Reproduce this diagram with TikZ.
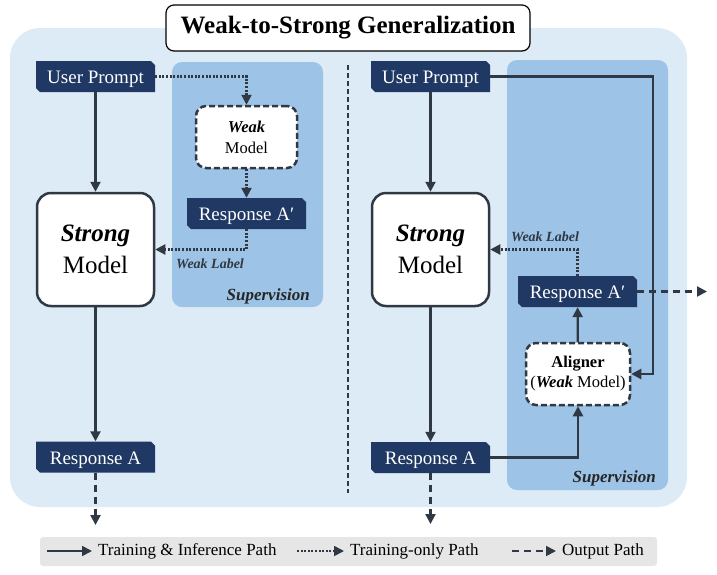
\documentclass[tikz,border=0pt]{standalone}
\usepackage{fontspec}
\setmainfont{Liberation Serif}
\usetikzlibrary{arrows.meta}
\definecolor{navy}{HTML}{203864}
\definecolor{bgblue}{HTML}{DDEBF7}
\definecolor{supblue}{HTML}{9DC3E6}
\definecolor{linec}{HTML}{2F3843}
\definecolor{legbg}{HTML}{E6E6E6}
\tikzset{
  navybox/.style={rectangle, minimum width=119pt, minimum height=31pt, inner sep=0pt,
    text height=14.5pt, text depth=0.5pt,
    text=white, font=\fontsize{19}{21}\selectfont,
    path picture={\fill[navy] (path picture bounding box.north west)
      -- ([xshift=-4pt]path picture bounding box.north east)
      -- ([yshift=-4pt]path picture bounding box.north east)
      -- (path picture bounding box.south east)
      -- ([xshift=4pt]path picture bounding box.south west)
      -- ([yshift=4pt]path picture bounding box.south west) -- cycle;}},
  strongbox/.style={rectangle, rounded corners=14pt, draw=linec, line width=2.5pt, fill=white,
    minimum width=117pt, minimum height=113pt, align=center, inner sep=0pt,
    font=\fontsize{25}{32}\selectfont},
  weakbox/.style={rectangle, rounded corners=10pt, draw=linec, line width=2.5pt, fill=white,
    dash pattern=on 6pt off 3pt, align=center, inner sep=0pt,
    font=\fontsize{16.5}{21}\selectfont},
  arr/.style={-{Triangle[length=10pt,width=10pt]}, line width=2.2pt, draw=linec},
  dotarr/.style={arr, dash pattern=on 2pt off 1.6pt},
  dasharr/.style={arr, dash pattern=on 7pt off 5pt},
  wlabel/.style={text=linec, font=\fontsize{14}{16}\selectfont\bfseries\itshape, inner sep=0pt},
  suplabel/.style={text=black!85, font=\fontsize{17}{19}\selectfont\bfseries\itshape, inner sep=0pt},
  legtext/.style={font=\fontsize{17}{19}\selectfont, inner sep=0pt, anchor=west}
}
\begin{document}
\begin{tikzpicture}[x=1pt,y=-1pt]
\useasboundingbox (0,0) rectangle (717,574);
% backgrounds
\fill[bgblue, rounded corners=30pt] (10,28) rectangle (687,507);
\fill[supblue, rounded corners=10pt] (172,62) rectangle (323,307);
\fill[supblue, rounded corners=10pt] (507,60) rectangle (668,490);
\draw[linec, line width=1.6pt, dash pattern=on 5pt off 3pt] (348,65) -- (348,493);
% title
\node[draw=black, line width=1.2pt, fill=white, rounded corners=8pt, minimum width=364pt,
  minimum height=46pt, font=\fontsize{25}{28}\selectfont\bfseries] (title) at (348,28)
  {Weak-to-Strong Generalization};
% left side
\node[navybox] (lup) at (95.5,76.5) {User Prompt};
\node[strongbox] (lstrong) at (95.5,249.5) {\textbf{\textit{Strong}}\\Model};
\node[weakbox, minimum width=101pt, minimum height=62pt] (lweak) at (246.5,137) {\textbf{\textit{Weak}}\\Model};
\node[navybox] (lrespp) at (246.5,213.5) {Response A′};
\node[navybox] (lresp) at (95.5,457) {Response A};
\coordinate (lout) at (95.5,525);
\node[suplabel, anchor=base east] (lsup) at (310,300) {Supervision};
\draw[arr] (lup) -- (lstrong);
\draw[arr] (lstrong) -- (lresp);
\draw[dasharr] (lresp) -- (lout);
\draw[dotarr] (lup.east) -| (lweak.north);
\draw[dotarr] (lweak) -- (lrespp);
\draw[dotarr] (lrespp.south) |- (lstrong.east);
\node[wlabel] (lwl) at (210,264) {Weak Label};
% right side
\node[navybox] (rup) at (430.5,76.5) {User Prompt};
\node[strongbox] (rstrong) at (430.5,249.5) {\textbf{\textit{Strong}}\\Model};
\node[navybox] (rresp) at (430.5,457.5) {Response A};
\node[navybox] (rrespp) at (577.5,291.5) {Response A′};
\node[weakbox, minimum width=104pt, minimum height=62pt, font=\fontsize{16.5}{20}\selectfont] (align) at (578,374)
  {\textbf{Aligner}\\(\textbf{\textit{Weak}} Model)};
\coordinate (rc) at (653,374);
\coordinate (rout) at (430.5,524);
\coordinate (rpout) at (707,291.5);
\node[suplabel, anchor=base east] (rsup) at (656,482) {Supervision};
\draw[arr] (rup) -- (rstrong);
\draw[arr] (rstrong) -- (rresp);
\draw[dasharr] (rresp) -- (rout);
\draw[arr] (rup.east) -| (rc) -- (align.east);
\draw[arr] (rresp.east) -| (align.south);
\draw[arr] (align) -- (rrespp);
\draw[dotarr] (rrespp.north) |- (rstrong.east);
\draw[dasharr] (rrespp.east) -- (rpout);
\node[wlabel] (rwl) at (545,237) {Weak Label};
% legend
\fill[legbg, rounded corners=3pt] (40,537) rectangle (657,566);
\coordinate (l1a) at (47,551); \coordinate (l1b) at (92,551);
\coordinate (l2a) at (297,551); \coordinate (l2b) at (344,551);
\coordinate (l3a) at (512,551); \coordinate (l3b) at (556,551);
\draw[arr, line width=1.8pt] (l1a) -- (l1b);
\draw[dotarr, line width=1.8pt] (l2a) -- (l2b);
\draw[dasharr, line width=1.8pt] (l3a) -- (l3b);
\node[legtext] (t1) at (98,551) {Training \& Inference Path};
\node[legtext] (t2) at (350,551) {Training-only Path};
\node[legtext] (t3) at (562,551) {Output Path};
\end{tikzpicture}
\end{document}
